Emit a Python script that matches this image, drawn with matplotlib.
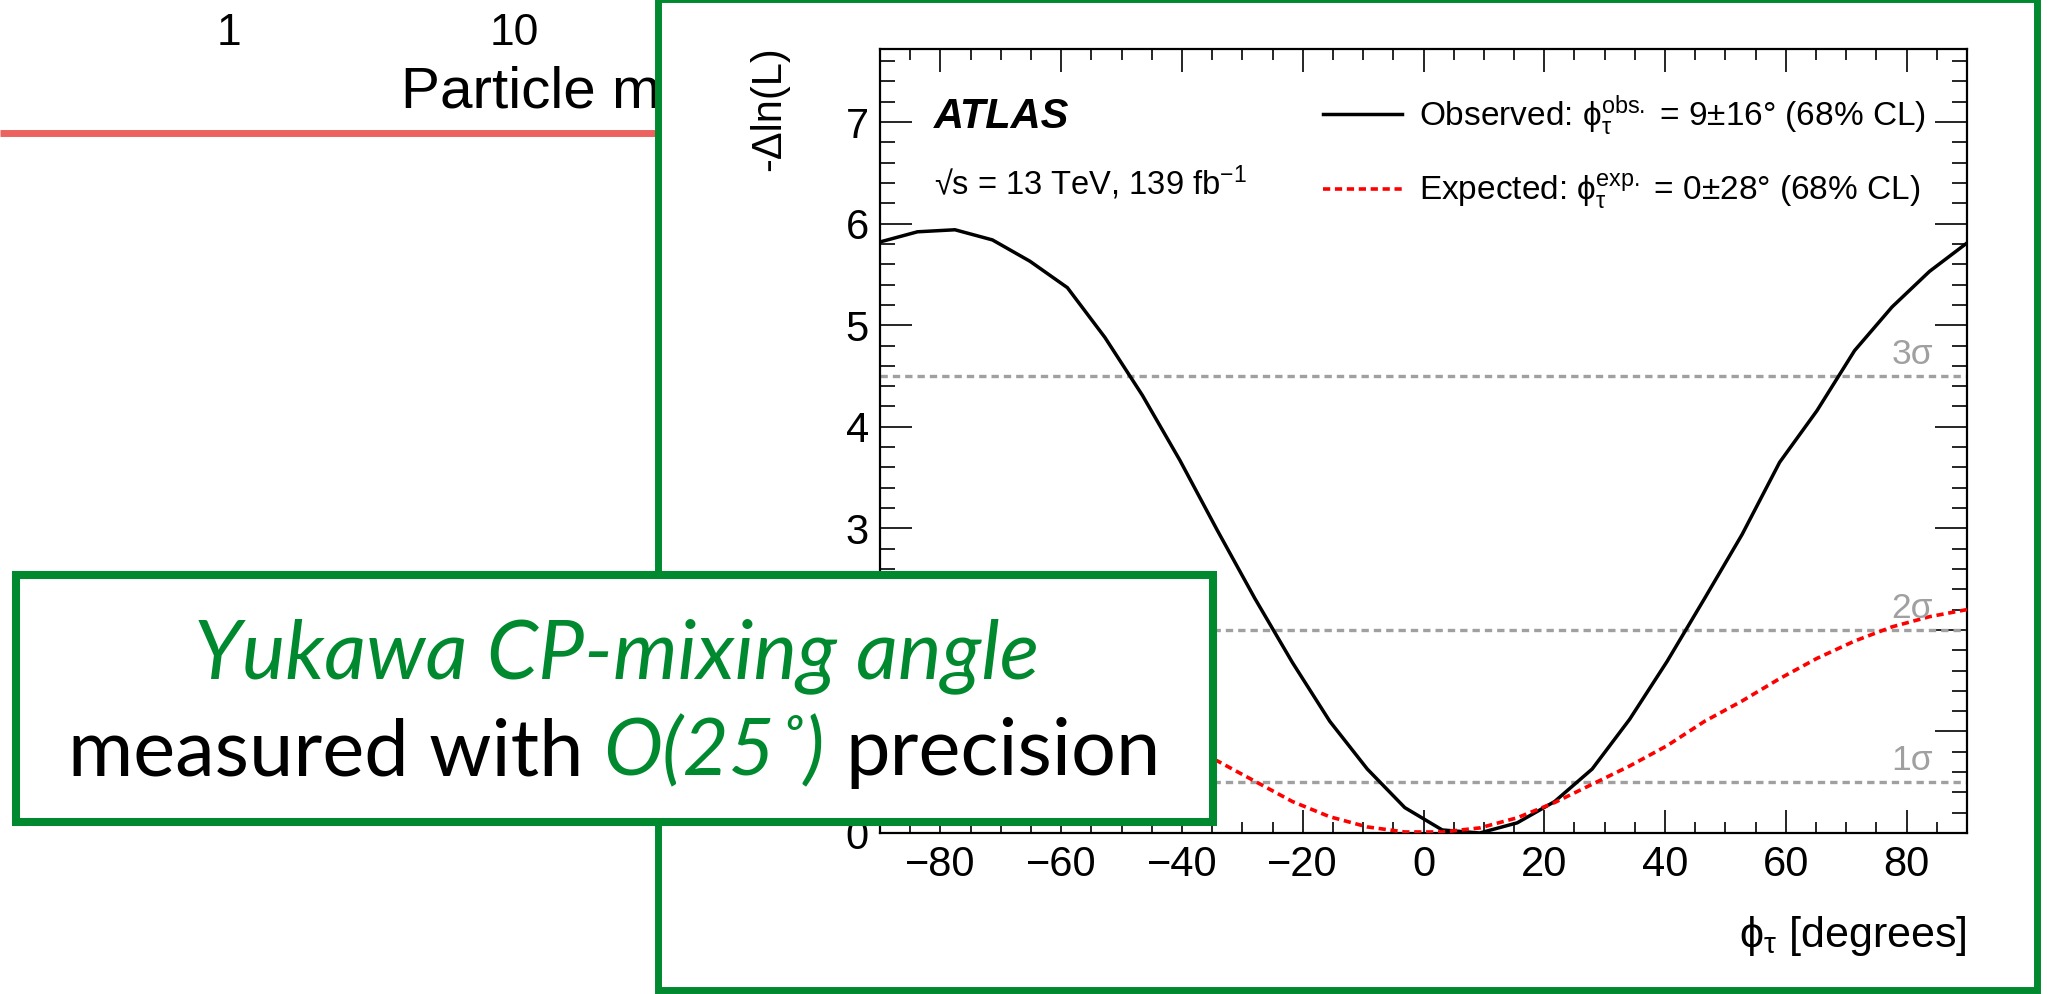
import numpy as np
import matplotlib
matplotlib.use("Agg")
import matplotlib.pyplot as plt
from matplotlib.patches import Rectangle
from matplotlib.ticker import MultipleLocator, FixedFormatter

plt.rcParams['font.family'] = ['Liberation Sans', 'DejaVu Sans']
plt.rcParams['mathtext.fontset'] = 'custom'
plt.rcParams['mathtext.rm'] = 'Liberation Sans'
plt.rcParams['mathtext.it'] = 'Liberation Sans:italic'
plt.rcParams['mathtext.bf'] = 'Liberation Sans:bold'
plt.rcParams['mathtext.fallback'] = 'stixsans'

# likelihood scan over the CP-mixing angle
phi = [-90.00, -83.79, -77.59, -71.38, -65.17, -58.97, -52.76, -46.55, -40.34, -34.14,
       -27.93, -21.72, -15.52, -9.31, -3.10, 3.10, 9.31, 15.52, 21.72, 27.93,
       34.14, 40.34, 46.55, 52.76, 58.97, 65.17, 71.38, 77.59, 83.79, 90.00]
nll_obs = [5.82, 5.92, 5.94, 5.84, 5.63, 5.37, 4.88, 4.31, 3.67, 2.98,
           2.31, 1.68, 1.10, 0.63, 0.25, 0.03, 0.00, 0.10, 0.31, 0.63,
           1.12, 1.69, 2.31, 2.94, 3.65, 4.16, 4.75, 5.18, 5.53, 5.81]
nll_exp = [2.20, 2.13, 2.03, 1.89, 1.72, 1.52, 1.30, 1.10, 0.88, 0.71,
           0.51, 0.31, 0.16, 0.06, 0.01, 0.01, 0.05, 0.15, 0.30, 0.48,
           0.66, 0.86, 1.10, 1.30, 1.52, 1.72, 1.89, 2.03, 2.13, 2.20]
sigma_levels = [0.5, 2.0, 4.5]
sigma_names = ['1σ', '2σ', '3σ']
# the box covers the labels of 1 and 2
ytick_labels = ['0', '', '', '3', '4', '5', '6', '7']

green = '#00892f'
W, H = 2049, 994

fig = plt.figure(figsize=(W / 100 + 1e-6, H / 100 + 1e-6), dpi=100)

# slide underneath (pixel coordinates)
bg = fig.add_axes([0, 0, 1, 1], zorder=0)
bg.set_xlim(0, W)
bg.set_ylim(H, 0)
bg.axis('off')
bg.text(229, 45, '1', fontsize=32, ha='center', va='baseline')
bg.text(514, 45, '10', fontsize=32, ha='center', va='baseline')
clip = Rectangle((0, 0), 656, H, transform=bg.transData)
t = bg.text(401, 107, 'Particle m', fontsize=42, ha='left', va='baseline')
t.set_clip_path(clip)
bg.plot([0, 656], [133.5, 133.5], color='#ec625e', lw=5, solid_capstyle='butt')
bg.add_patch(Rectangle((657.5, -0.5), 2037 - 657.5, 990.5, facecolor='white',
                       edgecolor=green, lw=5, zorder=3))

# ATLAS plot
ax = fig.add_axes([880 / W, 1 - 833 / H, 1087 / W, 784 / H], zorder=1)
l_obs, = ax.plot(phi, nll_obs, color='black', lw=2.5, zorder=3)
l_exp, = ax.plot(phi, nll_exp, color='red', lw=2.6, ls=(0, (2.0, 1.3)), zorder=3)
for lev, name in zip(sigma_levels, sigma_names):
    ax.axhline(lev, color='#a0a0a0', lw=2.4, ls=(0, (2.2, 1.5)), zorder=2)
    ax.text(0.9687, lev + 0.12, name, color='#a0a0a0', fontsize=25.5,
            ha='right', va='baseline', transform=ax.get_yaxis_transform())

ax.set_xlim(-90, 90)
ax.set_ylim(0, 7.72)
ax.set_xticks(range(-80, 81, 20))
ax.set_yticks(range(0, 8))
ax.yaxis.set_major_formatter(FixedFormatter(ytick_labels))
ax.xaxis.set_minor_locator(MultipleLocator(5))
ax.yaxis.set_minor_locator(MultipleLocator(0.2))
ax.tick_params(which='both', direction='in', top=True, right=True, labelsize=30, width=1.2)
ax.tick_params(axis='x', which='major', length=16.5, pad=8.5)
ax.tick_params(axis='x', which='minor', length=8)
ax.tick_params(axis='y', which='major', length=23, pad=8)
ax.tick_params(axis='y', which='minor', length=11)
for s in ax.spines.values():
    s.set_linewidth(1.6)

ax.text(-0.102, 1.004, '-Δln(L)', rotation=90, fontsize=30, ha='center', va='top',
        transform=ax.transAxes)
ax.text(1.0, -0.103, r'$\mathrm{\phi}_{\mathrm{\tau}}$ [degrees]', fontsize=31, ha='right',
        va='top', transform=ax.transAxes)
ax.text(0.0497, 0.899, 'ATLAS', fontsize=30, weight='bold', style='italic',
        va='baseline', transform=ax.transAxes)
ax.text(0.0497, 0.814, r'√s = 13 TeV, 139 fb$^{\mathrm{-1}}$', fontsize=23.5,
        va='baseline', transform=ax.transAxes)

ax.legend([l_obs, l_exp],
          [r'Observed: $\mathrm{\phi}^{\mathrm{obs.}}_{\mathrm{\tau}}$ = 9±16° (68% CL)',
           r'Expected: $\mathrm{\phi}^{\mathrm{exp.}}_{\mathrm{\tau}}$ = 0±28° (68% CL)'],
          loc='upper left', bbox_to_anchor=(0.408, 0.944), frameon=False,
          fontsize=24, handlelength=2.37, handletextpad=0.5, labelspacing=1.05,
          borderpad=0, borderaxespad=0)

# callout box on top
fg = fig.add_axes([0, 0, 1, 1], zorder=2)
fg.set_xlim(0, W)
fg.set_ylim(H, 0)
fg.axis('off')
fg.add_patch(Rectangle((16, 575), 1197, 247, facecolor='white', edgecolor=green, lw=5.8))

fs = 58
fg.text(616, 678, 'Yukawa CP-mixing angle', family='Lato', style='italic', color=green,
        fontsize=fs * 1.02, ha='center', va='baseline')

r = fig.canvas.get_renderer()
parts = [('measured with', 'black', 'normal'), ('O(25˚)', green, 'italic'),
         ('precision', 'black', 'normal')]
fs2 = fs * 0.985
probe = fg.text(0, 0, 'n n', family='Lato', fontsize=fs2)
probe2 = fg.text(0, 0, 'nn', family='Lato', fontsize=fs2)
gap = probe.get_window_extent(r).width - probe2.get_window_extent(r).width
probe.remove()
probe2.remove()
pieces = [fg.text(0, 775, s, family='Lato', style=st, color=c, fontsize=fs2,
                  ha='left', va='baseline') for s, c, st in parts]
widths = [p.get_window_extent(r).width for p in pieces]
x = 614 - (sum(widths) + gap * (len(pieces) - 1)) / 2
for p, w in zip(pieces, widths):
    p.set_x(x)
    x += w + gap

fig.savefig('out.png', dpi=100)
